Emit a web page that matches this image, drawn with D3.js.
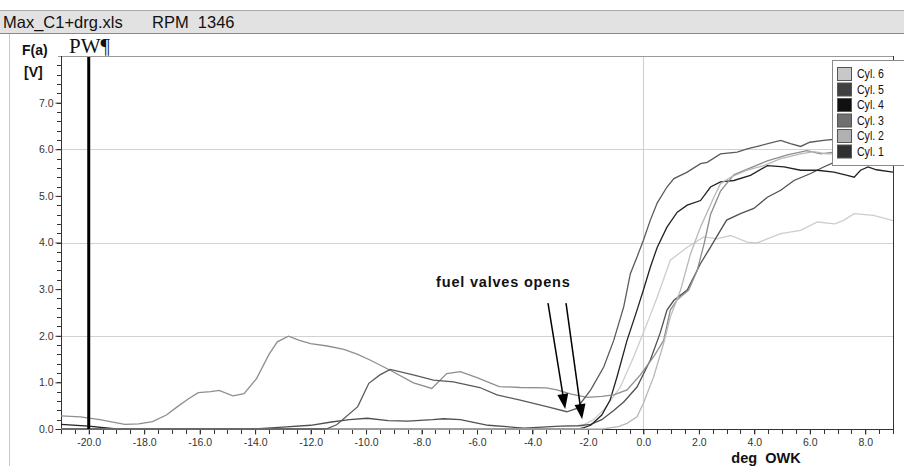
<!DOCTYPE html>
<html><head><meta charset="utf-8">
<script src="https://cdn.jsdelivr.net/npm/d3@7"></script>
<style>
html,body{margin:0;padding:0;background:#fff;}
svg{display:block;font-family:"Liberation Sans",Arial,sans-serif;}
</style></head>
<body>
<svg id="c" width="904" height="466"></svg>
<script>
// ---------- data ----------
const title = "Max_C1+drg.xls";
const rpmLabel = "RPM  1346";
const yUnitTop = "F(a)";
const yUnitBottom = "[V]";
const markerLabel = "PW\u00B6";
const xTitle = "deg  OWK";
const annotation = "fuel valves opens";
const xTicks = [-20, -18, -16, -14, -12, -10, -8, -6, -4, -2, 0, 2, 4, 6, 8];
const yTicks = [0, 1, 2, 3, 4, 5, 6, 7];
const gridY = [2, 4, 6];
const gridX = [0];
const markerX = -20;
const legendNames = ["Cyl. 6", "Cyl. 5", "Cyl. 4", "Cyl. 3", "Cyl. 2", "Cyl. 1"];
const legendColors = ["#c8c8c8", "#404040", "#101010", "#707070", "#b0b0b0", "#303030"];

// series: [deg, volts]
const cyl6 = [[-21,0],[-2.3,0],[-2.15,0.09],[-1.8,0.2],[-1.43,0.41],[-0.83,0.9],[-0.35,1.55],[0.13,2.26],[0.5,2.83],[0.97,3.62],[1.58,3.9],[2.18,4.12],[2.66,4.08],[3.14,4.15],[3.74,4.01],[4.1,3.99],[4.95,4.19],[5.67,4.26],[6.27,4.44],[6.9,4.4],[7.2,4.47],[7.6,4.62],[8.3,4.58],[9.0,4.47]];
const cyl5 = [[-21,0],[-14.0,0],[-13.0,0.04],[-12.0,0.08],[-11.25,0.15],[-10.6,0.2],[-9.96,0.23],[-9.2,0.18],[-8.5,0.17],[-7.6,0.2],[-7.2,0.22],[-6.6,0.2],[-5.6,0.08],[-4.3,0.02],[-3.0,0.06],[-2.35,0.07],[-1.9,0.1],[-1.5,0.2],[-1.06,0.4],[-0.71,0.58],[-0.23,0.9],[0.25,1.48],[0.6,2.05],[0.85,2.55],[1.1,2.76],[1.58,2.98],[2.06,3.55],[2.42,3.9],[3.0,4.48],[3.5,4.62],[3.98,4.73],[4.47,4.97],[4.95,5.12],[5.43,5.33],[6.03,5.48],[6.5,5.62],[7.0,5.75],[7.5,5.85],[8.0,5.95],[8.5,6.0],[9.0,6.05]];
const cyl4 = [[-21,0.1],[-20,0.06],[-19,0],[-2.3,0],[-1.9,0.08],[-1.5,0.3],[-1.2,0.62],[-0.95,1.12],[-0.59,1.9],[-0.23,2.55],[0,2.98],[0.25,3.47],[0.5,3.9],[0.85,4.33],[1.22,4.65],[1.58,4.8],[2.06,4.9],[2.42,5.19],[2.78,5.3],[3.26,5.33],[3.86,5.44],[4.47,5.65],[5.07,5.62],[5.67,5.55],[6.27,5.55],[6.87,5.51],[7.35,5.44],[7.6,5.4],[7.83,5.55],[8.1,5.62],[8.4,5.56],[9.0,5.51]];
const cyl3 = [[-21,0.28],[-20.3,0.26],[-19.6,0.2],[-18.7,0.1],[-18.2,0.11],[-17.7,0.16],[-17.2,0.3],[-16.8,0.48],[-16.4,0.65],[-16.05,0.78],[-15.6,0.8],[-15.3,0.83],[-14.8,0.71],[-14.4,0.76],[-13.95,1.08],[-13.5,1.6],[-13.2,1.87],[-12.8,1.99],[-12.4,1.9],[-12.0,1.83],[-11.4,1.78],[-10.8,1.71],[-10.3,1.6],[-9.86,1.48],[-9.13,1.26],[-8.29,0.99],[-7.63,0.87],[-7.09,1.19],[-6.6,1.23],[-6.0,1.1],[-5.2,0.91],[-4.44,0.89],[-3.5,0.88],[-3.12,0.84],[-2.6,0.75],[-2.03,0.68],[-1.5,0.7],[-1.07,0.73],[-0.59,0.84],[-0.11,1.16],[0.37,1.55],[0.73,1.9],[0.97,2.55],[1.2,2.76],[1.63,2.98],[1.94,3.4],[2.2,4.0],[2.42,4.6],[2.78,5.1],[3.26,5.45],[3.86,5.6],[4.47,5.75],[5.19,5.88],[5.9,5.97],[6.39,5.9],[7.0,5.95],[7.5,6.0],[8.0,6.05],[9.0,6.0]];
const cyl2 = [[-21,0],[-1.5,0],[-0.9,0.05],[-0.59,0.12],[-0.23,0.26],[0,0.55],[0.37,1.12],[0.73,1.84],[0.97,2.4],[1.2,2.76],[1.34,2.98],[1.7,3.76],[2.06,4.33],[2.54,4.97],[2.78,5.26],[3.14,5.4],[3.74,5.55],[4.34,5.65],[4.95,5.8],[5.67,5.9],[6.15,5.95],[6.6,5.9],[7.2,5.9],[8.0,5.95],[9.0,6.0]];
const cyl1 = [[-21,0],[-11.6,0],[-11.4,0.01],[-11.06,0.09],[-10.3,0.48],[-9.9,0.98],[-9.5,1.16],[-9.13,1.28],[-8.3,1.16],[-7.57,1.05],[-6.85,1.01],[-5.9,0.89],[-5.28,0.73],[-4.44,0.62],[-3.48,0.48],[-2.76,0.37],[-2.4,0.44],[-1.9,0.84],[-1.43,1.33],[-1.07,1.9],[-0.71,2.62],[-0.47,3.33],[-0.23,3.69],[0,4.05],[0.25,4.48],[0.5,4.85],[0.85,5.19],[1.1,5.37],[1.58,5.51],[2.06,5.69],[2.3,5.72],[2.78,5.9],[3.38,5.94],[3.74,6.01],[4.22,6.08],[4.95,6.19],[5.3,6.12],[5.67,6.06],[6.0,6.15],[6.5,6.19],[7.0,6.22],[7.5,6.2],[8.0,6.25],[8.5,6.2],[9.0,6.15]];
const seriesData = [cyl6, cyl5, cyl4, cyl3, cyl2, cyl1];
const lineColors = ["#cdcdcd", "#505050", "#222222", "#8e8e8e", "#b8b8b8", "#5a5a5a"];
// annotation arrows [from, to] in data units
const arrows = [[[-3.44,2.70],[-2.82,0.43]], [[-2.79,2.70],[-2.21,0.21]]];

// ---------- drawing ----------
const svg = d3.select("#c");
const x = d3.scaleLinear().domain([-21, 9]).range([61, 893]);
const y = d3.scaleLinear().domain([0, 8]).range([429, 56]);
const SANS = "Liberation Sans, Arial, sans-serif";

// window chrome
svg.append("rect").attr("x",0).attr("y",10).attr("width",904).attr("height",23).attr("fill","#e2e2e2");
svg.append("line").attr("x1",0).attr("x2",904).attr("y1",10.5).attr("y2",10.5).attr("stroke","#a8a8a8");
svg.append("line").attr("x1",0).attr("x2",904).attr("y1",33.5).attr("y2",33.5).attr("stroke","#8a8a8a");
svg.append("text").attr("x",3).attr("y",28).style("font-size","16.5px").style("font-family",SANS).attr("fill","#111").text(title);
svg.append("text").attr("x",152).attr("y",28).style("font-size","16.5px").style("font-family",SANS).attr("fill","#111").style("white-space","pre").text(rpmLabel);
svg.append("line").attr("x1",9.5).attr("x2",9.5).attr("y1",34).attr("y2",466).attr("stroke","#c8c8c8");

// plot frame
svg.append("line").attr("x1",58).attr("x2",893.5).attr("y1",56.5).attr("y2",56.5).attr("stroke","#9a9a9a");
svg.append("line").attr("x1",893.5).attr("x2",893.5).attr("y1",56).attr("y2",430).attr("stroke","#333");

// grid
svg.append("g").selectAll("line").data(gridY).join("line")
  .attr("x1",62).attr("x2",893).attr("y1",d=>Math.round(y(d))+0.5).attr("y2",d=>Math.round(y(d))+0.5)
  .attr("stroke","#d2d2d2").attr("stroke-width",1.2);
svg.append("g").selectAll("line").data(gridX).join("line")
  .attr("x1",d=>Math.round(x(d))+0.5).attr("x2",d=>Math.round(x(d))+0.5).attr("y1",57).attr("y2",429)
  .attr("stroke","#d2d2d2").attr("stroke-width",1.2);

// y axis
const yMinor = d3.range(0, 7.9, 0.2);
svg.append("g").selectAll("line").data(yMinor).join("line")
  .attr("x1",57).attr("x2",61).attr("y1",d=>Math.round(y(d))+0.5).attr("y2",d=>Math.round(y(d))+0.5)
  .attr("stroke","#333");
const yAx = svg.append("g").attr("transform","translate(61.5,0)")
  .call(d3.axisLeft(y).tickValues(yTicks).tickFormat(d3.format(".1f")).tickSize(6).tickPadding(2));
yAx.select(".domain").attr("stroke","#333").attr("d","M0,56V430");
yAx.selectAll(".tick line").attr("stroke","#333");
yAx.selectAll("text").style("font-size","10.5px").attr("fill","#333").style("font-family",SANS);

// x axis
const xMinor = d3.range(-21, 9.01, 0.5);
svg.append("g").selectAll("line").data(xMinor).join("line")
  .attr("x1",d=>Math.round(x(d))+0.5).attr("x2",d=>Math.round(x(d))+0.5).attr("y1",430).attr("y2",434)
  .attr("stroke","#333");
const xAx = svg.append("g").attr("transform","translate(0,429.5)")
  .call(d3.axisBottom(x).tickValues(xTicks).tickFormat(d3.format(".1f")).tickSize(5).tickPadding(4));
xAx.select(".domain").attr("stroke","#333").attr("d","M61,0H894");
xAx.selectAll(".tick line").attr("stroke","#333");
xAx.selectAll("text").style("font-size","10.5px").attr("fill","#333").style("font-family",SANS)
  .text(d=>d3.format(".1f")(d).replace("\u2212","-"));

// series lines
const line = d3.line().x(d=>x(d[0])).y(d=>y(d[1]));
const clipId = "plotclip";
svg.append("clipPath").attr("id",clipId).append("rect").attr("x",61).attr("y",56).attr("width",832).attr("height",374);
svg.append("g").attr("clip-path",`url(#${clipId})`).selectAll("path").data(seriesData).join("path")
  .attr("d",line).attr("fill","none").attr("stroke",(d,i)=>lineColors[i]).attr("stroke-width",1.3);

// PW marker
svg.append("line").attr("x1",x(markerX)).attr("x2",x(markerX)).attr("y1",57).attr("y2",429)
  .attr("stroke","#000").attr("stroke-width",3);

// texts
svg.append("text").attr("x",22).attr("y",55).style("font-size","14px").style("font-family",SANS).attr("font-weight","bold").attr("fill","#111").text(yUnitTop);
svg.append("text").attr("x",24).attr("y",77).style("font-size","14px").style("font-family",SANS).attr("font-weight","bold").attr("fill","#111").text(yUnitBottom);
svg.append("text").attr("x",69).attr("y",53).style("font-size","21px").attr("fill","#111")
  .style("font-family","Liberation Serif, 'Times New Roman', serif").text(markerLabel);
svg.append("text").attr("x",766).attr("y",463).attr("text-anchor","middle").style("font-size","14.5px").style("font-family",SANS).attr("font-weight","bold")
  .attr("fill","#111").style("white-space","pre").text(xTitle);
svg.append("text").attr("x",x(-5.05)).attr("y",y(3.05)).attr("text-anchor","middle").style("font-size","14.5px").style("font-family",SANS)
  .attr("font-weight","bold").attr("letter-spacing",0.8).attr("fill","#111").text(annotation);

// arrows
arrows.forEach(a=>{
  const x1=x(a[0][0]), y1=y(a[0][1]), x2=x(a[1][0]), y2=y(a[1][1]);
  const ang = Math.atan2(y2-y1, x2-x1);
  svg.append("line").attr("x1",x1).attr("y1",y1).attr("x2",x2-Math.cos(ang)*12).attr("y2",y2-Math.sin(ang)*12)
    .attr("stroke","#000").attr("stroke-width",1.5);
  const hl=15, hw=5.5;
  const bx=x2-Math.cos(ang)*hl, by=y2-Math.sin(ang)*hl;
  const px=-Math.sin(ang)*hw, py=Math.cos(ang)*hw;
  svg.append("path").attr("d",`M${x2},${y2}L${bx+px},${by+py}L${bx-px},${by-py}Z`).attr("fill","#000");
});

// legend
const lg = svg.append("g");
lg.append("rect").attr("x",832.5).attr("y",60.5).attr("width",80).attr("height",105).attr("fill","#fff").attr("stroke","#8a8a8a");
const rowY = d3.scaleLinear().domain([0,5]).range([74,151.5]);
const items = lg.selectAll("g").data(legendNames).join("g").attr("transform",(d,i)=>`translate(0,${rowY(i)})`);
items.append("rect").attr("x",837.5).attr("y",-6.5).attr("width",14).attr("height",13)
  .attr("fill",(d,i)=>legendColors[i]).attr("stroke","#555");
items.append("text").attr("x",857).attr("y",4).style("font-size","12px")
  .style("font-family",SANS).attr("textLength",27).attr("lengthAdjust","spacingAndGlyphs")
  .attr("fill","#111").text(d=>d);
</script>
</body></html>
